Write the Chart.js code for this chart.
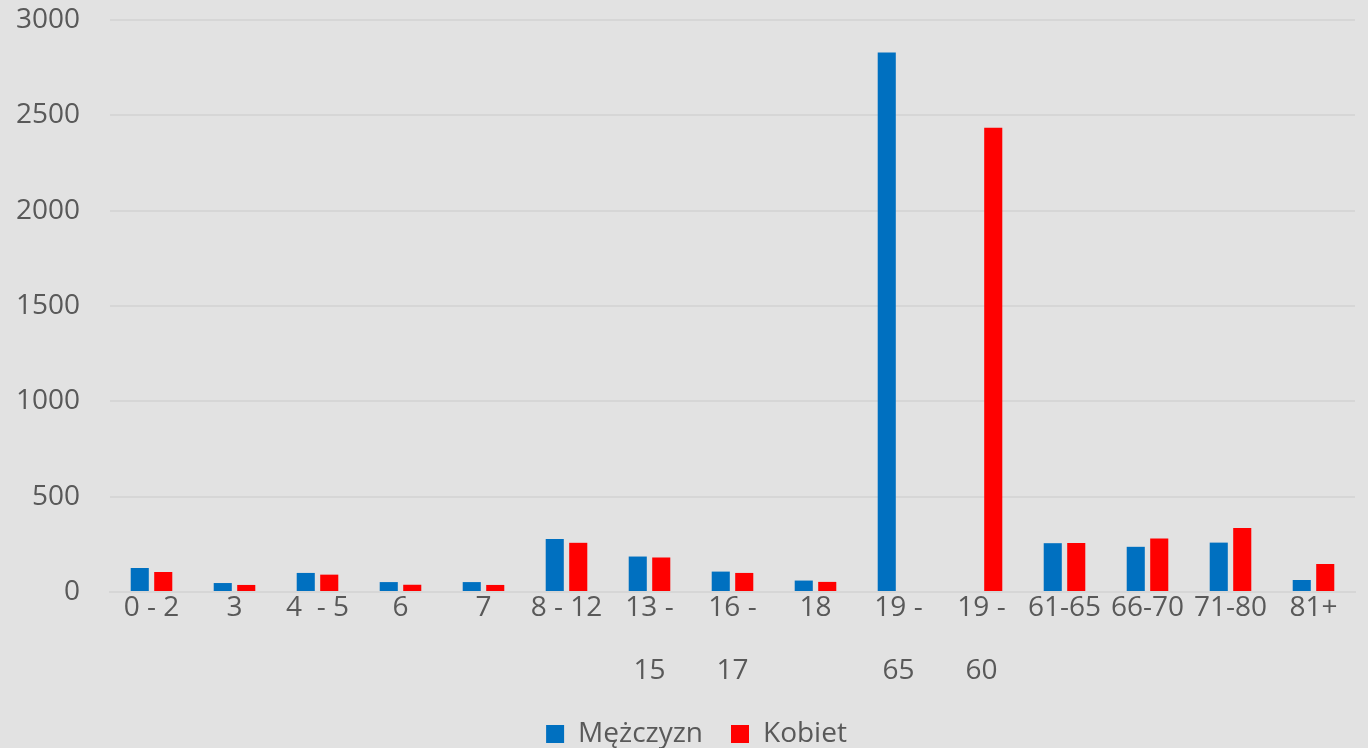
<!DOCTYPE html>
<html>
<head>
<meta charset="utf-8">
<script src="https://cdn.jsdelivr.net/npm/chart.js@4"></script>
<style>
    html, body { margin: 0; padding: 0; background: #e2e2e2; overflow: hidden; }
    #wrap { width: 1368px; height: 748px; }
</style>
</head>
<body>
<div id="wrap"><canvas id="myChart" width="1368" height="748"></canvas></div>
<script>
// age groups (x axis)
const categories = ["0 - 2", "3", "4  - 5", "6", "7", "8 - 12", ["13 -", "15"], ["16 -", "17"], "18",
    ["19 -", "65"], ["19 -", "60"], "61-65", "66-70", "71-80", "81+"];
const men = [126, 47, 100, 52, 52, 278, 186, 107, 60, 2830, 0, 256, 237, 259, 63];
const women = [105, 37, 91, 38, 37, 258, 181, 100, 53, 0, 2435, 257, 280, 336, 147];
const yTicks = [0, 500, 1000, 1500, 2000, 2500, 3000];

const textColor = "#595959";
const gridColor = "#d6d6d6";
const font = { family: "'Open Sans', sans-serif", size: 28 };

// legend sits a bit right of the canvas centre, like the original
const shiftLegend = {
    id: 'shiftLegend',
    afterLayout(chart) {
        chart.legend.left += 12;
        chart.legend.right += 12;
    }
};

const ctx = document.getElementById('myChart').getContext('2d');
new Chart(ctx, {
    type: 'bar',
    data: {
        labels: categories,
        datasets: [{
            label: 'Mężczyzn',
            data: men,
            backgroundColor: '#0070c0',
            borderWidth: 0
        }, {
            label: 'Kobiet',
            data: women,
            backgroundColor: '#ff0000',
            borderWidth: 0
        }]
    },
    plugins: [shiftLegend],
    options: {
        responsive: false,
        animation: false,
        layout: { padding: { left: 14, right: 13, top: 0, bottom: -10 } },
        categoryPercentage: 0.566,
        barPercentage: 0.77,
        plugins: {
            legend: {
                position: 'bottom',
                labels: {
                    color: textColor,
                    font: font,
                    boxWidth: 18,
                    boxHeight: 18,
                    padding: 28
                }
            },
            tooltip: { enabled: false }
        },
        scales: {
            x: {
                grid: { display: false, drawTicks: false },
                border: { display: true, color: gridColor, width: 2 },
                ticks: {
                    color: textColor,
                    font: Object.assign({}, font, { lineHeight: 2.25 }),
                    maxRotation: 0,
                    autoSkip: false,
                    padding: -15
                },
                afterFit: axis => { axis.height += 4; }
            },
            y: {
                min: 0,
                max: 3000,
                afterBuildTicks: axis => { axis.ticks = yTicks.map(v => ({ value: v })); },
                afterFit: axis => {
                    axis.width = 96;
                    axis.paddingTop = 20;
                    axis.paddingBottom = 0;
                },
                grid: { color: gridColor, lineWidth: 2, drawTicks: false },
                border: { display: false },
                ticks: {
                    color: textColor,
                    font: font,
                    padding: 30,
                    callback: value => String(value)
                }
            }
        }
    }
});
</script>
</body>
</html>
